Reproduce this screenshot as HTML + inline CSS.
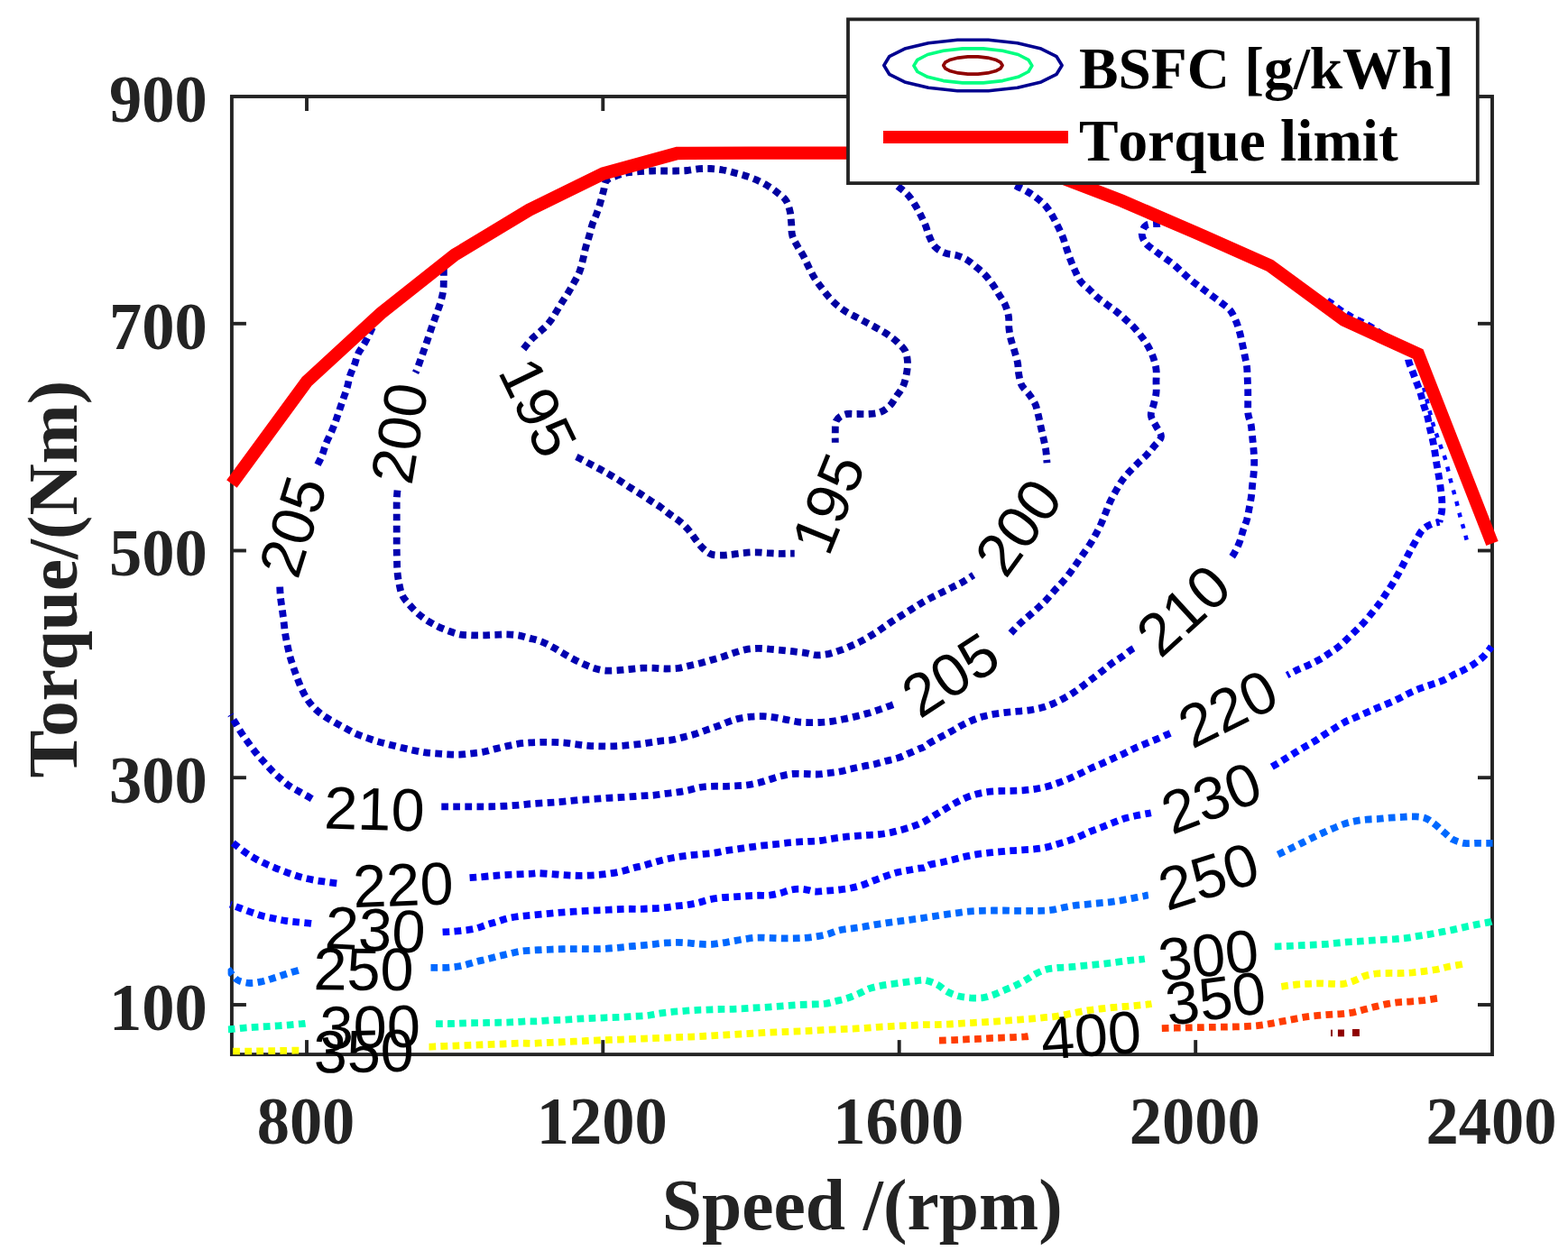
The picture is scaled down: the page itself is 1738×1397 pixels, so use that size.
<!DOCTYPE html>
<html lang="en">
<head>
<meta charset="utf-8">
<title>BSFC map</title>
<style>
html,body{margin:0;padding:0;background:#ffffff;}
body{width:1738px;height:1397px;overflow:hidden;}
svg{display:block;}
text{font-kerning:none;font-variant-ligatures:none;white-space:pre;}
</style>
</head>
<body>
<svg width="1738" height="1397" viewBox="0 0 1738 1397">
<rect x="0" y="0" width="1738" height="1397" fill="#ffffff"/>
<g stroke="#232323" stroke-width="3.9" fill="none" stroke-linecap="butt">
<rect x="256.9" y="107.0" width="1397.1" height="1062.1"/>
<line x1="340.0" y1="1169.1" x2="340.0" y2="1153.1"/>
<line x1="340.0" y1="107.0" x2="340.0" y2="123.0"/>
<line x1="668.3" y1="1169.1" x2="668.3" y2="1153.1"/>
<line x1="668.3" y1="107.0" x2="668.3" y2="123.0"/>
<line x1="996.7" y1="1169.1" x2="996.7" y2="1153.1"/>
<line x1="996.7" y1="107.0" x2="996.7" y2="123.0"/>
<line x1="1325.2" y1="1169.1" x2="1325.2" y2="1153.1"/>
<line x1="1325.2" y1="107.0" x2="1325.2" y2="123.0"/>
<line x1="256.9" y1="358.8" x2="272.9" y2="358.8"/>
<line x1="1654.0" y1="358.8" x2="1638.0" y2="358.8"/>
<line x1="256.9" y1="610.5" x2="272.9" y2="610.5"/>
<line x1="1654.0" y1="610.5" x2="1638.0" y2="610.5"/>
<line x1="256.9" y1="862.2" x2="272.9" y2="862.2"/>
<line x1="1654.0" y1="862.2" x2="1638.0" y2="862.2"/>
<line x1="256.9" y1="1114.0" x2="272.9" y2="1114.0"/>
<line x1="1654.0" y1="1114.0" x2="1638.0" y2="1114.0"/>
</g>
<g font-family="'Liberation Sans', sans-serif" font-size="66.67" fill="#000000" text-anchor="middle">
<text transform="translate(1342.4,883.8) rotate(-21)" y="23.9">230</text>
<text transform="translate(1311.2,676) rotate(-42.5)" y="23.9">210</text>
<text transform="translate(1360.7,784.9) rotate(-26.5)" y="23.9">220</text>
<text transform="translate(1339.4,970.8) rotate(-17.5)" y="23.9">250</text>
<text transform="translate(1339.4,1058.2) rotate(-6)" y="23.9">300</text>
<text transform="translate(1347.3,1106) rotate(-7.5)" y="23.9">350</text>
<text transform="translate(1209.2,1146.8) rotate(-4.2)" y="23.9">400</text>
<text transform="translate(324,583.5) rotate(-72.5)" y="23.9">205</text>
<text transform="translate(441.9,480.1) rotate(-80.5)" y="23.9">200</text>
<text transform="translate(1128,584) rotate(-54)" y="23.9">200</text>
<text transform="translate(1053,747.5) rotate(-33)" y="23.9">205</text>
<text transform="translate(415,896) rotate(1.5)" y="23.9">210</text>
<text transform="translate(446.8,980.2) rotate(-2)" y="23.9">220</text>
<text transform="translate(416.1,1030) rotate(3)" y="23.9">230</text>
<text transform="translate(403,1073.8) rotate(0.5)" y="23.9">250</text>
<text transform="translate(410.2,1137.7) rotate(-1)" y="23.9">300</text>
<text transform="translate(403.1,1164.7) rotate(-1)" y="23.9">350</text>
<text transform="translate(917.1,558.1) rotate(-68)" y="23.9">195</text>
<text transform="translate(597.2,451.3) rotate(64)" y="23.9">195</text>
</g>
<defs><clipPath id="axclip"><rect x="252.59999999999997" y="107.0" width="1403.3999999999999" height="1062.6"/></clipPath></defs>
<g clip-path="url(#axclip)" fill="none">
<path d="M580.3 386.9C581.8 385.1 586.3 379 589.6 375.7C592.8 372.3 596.4 369.8 599.6 366.9C602.7 364 605.6 361.5 608.3 358.1C611.1 354.8 613.5 350.6 615.9 346.8C618.2 343.1 620.3 339.2 622.6 335.6C624.9 331.9 627.3 328.5 629.6 324.8C631.9 321 634.3 316.9 636.4 313C638.5 309.2 640.6 305.8 642.2 301.7C643.8 297.7 644.8 293.1 645.9 288.7C647.1 284.3 647.8 279.7 648.9 275.4C650.1 271.1 651.4 267.3 652.7 262.9C654 258.5 655.1 253.3 656.5 249.1C657.8 244.9 659.5 241.8 661 237.8C662.4 233.9 663.9 229.7 665.2 225.3C666.6 220.9 667.8 215.7 669 211.5C670.2 207.4 669.7 203.1 672.2 200.3C674.7 197.5 680.1 196.2 684 194.7C687.8 193.3 691.1 192.2 695.2 191.5C699.4 190.7 704.5 190.6 709 190.2C713.5 189.9 717.9 189.6 722.3 189.5C726.7 189.4 730.9 189.5 735.3 189.5C739.7 189.5 744.2 189.6 748.6 189.5C753 189.4 757.3 189.4 761.6 189C766 188.6 770.5 187.6 774.9 187.2C779.3 186.9 783.6 186.8 788 187C792.3 187.2 796.9 187.7 801.2 188.5C805.5 189.2 809.7 190.4 813.8 191.5C817.8 192.5 821.5 193.4 825.5 194.7C829.6 196 833.9 197.4 838.1 199.3C842.2 201.1 846.7 203.4 850.6 205.8C854.5 208.1 857.9 210.6 861.4 213.3C864.8 216 868.8 218.5 871.1 222.1C873.5 225.6 874.7 230.3 875.7 234.6C876.7 238.9 876.7 243.5 877.2 247.9C877.6 252.2 877 256.7 878.2 260.9C879.3 265.1 881.8 269 883.9 272.9C886 276.8 888.6 280.3 890.7 284.2C892.8 288.1 894.5 292.3 896.5 296.2C898.5 300.2 900.4 304.3 902.7 308C905 311.7 907.6 315.1 910.2 318.5C912.8 322 915.4 325.5 918.3 328.8C921.1 332.1 924.3 335.3 927.5 338.1C930.8 340.9 934.1 343.3 937.8 345.6C941.5 347.9 945.7 349.8 949.6 351.9C953.5 353.9 957.5 356 961.4 358.1C965.2 360.2 969.1 362.2 972.9 364.4C976.7 366.6 980.5 368.6 984.2 371.1C987.8 373.7 991.5 376.4 994.7 379.4C997.9 382.5 1001.6 385.7 1003.5 389.4C1005.3 393.2 1005.7 397.7 1006 402C1006.2 406.2 1005.5 410.7 1004.7 415.1C1003.9 419.5 1002.7 424.4 1000.9 428.4C999.1 432.4 996.4 435.4 993.9 438.9C991.5 442.5 989.4 446.7 986.4 449.7C983.4 452.7 979.7 455.4 975.9 456.9C972 458.5 967.7 458.6 963.4 459C959 459.3 954.1 458.9 949.6 459C945.1 459 940.1 458.2 936.3 459.5C932.5 460.7 928.8 463.2 927 466.5C925.3 469.7 926 474.9 925.8 479C925.6 483.1 925.8 488.8 925.8 490.8" stroke="#0000a0" stroke-width="7.8" stroke-dasharray="7.7 5.35" stroke-dashoffset="0"/>
<path d="M638.9 506.6C641.2 507.7 648.3 511.3 652.6 513.6C657 515.9 661.2 518.2 665.2 520.3C669.1 522.5 672.7 524.4 676.4 526.6C680.2 528.8 684 531 687.7 533.4C691.5 535.8 695.2 538.5 699 540.9C702.8 543.3 706.5 545.5 710.3 547.9C714 550.3 717.9 553 721.6 555.4C725.2 557.8 728.8 559.9 732.3 562.4C735.9 564.9 739.3 567.9 742.9 570.5C746.4 573.1 750 575.2 753.4 578C756.7 580.8 760 583.9 762.9 587.2C765.8 590.6 768.2 594.6 770.9 598C773.6 601.5 776.1 605.2 779.2 608C782.2 610.8 785.2 613.6 789.2 614.8C793.2 616.1 799.4 615.6 803 615.6C806.5 615.6 807 615.2 810.5 614.8C814.1 614.4 819.9 613.5 824.3 613.1C828.7 612.6 832.4 612.3 836.8 612.3C841.2 612.3 846.1 612.8 850.6 613.1C855.1 613.3 859.2 613.7 863.6 613.8C868 613.9 874.1 613.6 876.9 613.6C879.7 613.5 880 613.6 880.7 613.6" stroke="#0000a0" stroke-width="7.8" stroke-dasharray="7.7 5.35" stroke-dashoffset="0"/>
<path d="M491.8 298C491.8 299.9 491.9 305.3 491.8 309.3C491.7 313.2 491.9 317.6 491.3 321.8C490.8 326 489.7 330.1 488.6 334.3C487.4 338.5 485.8 342.7 484.3 346.8C482.9 351 481.3 355.2 479.8 359.4C478.3 363.5 477 367.6 475.5 371.9C474.1 376.2 472.5 381 471 385.2C469.6 389.4 468.2 392.9 466.8 397C465.3 401 463.3 406.8 462.3 409.5C461.2 412.2 460.8 412.6 460.5 413.2" stroke="#0000af" stroke-width="7.8" stroke-dasharray="7.7 5.35" stroke-dashoffset="0"/>
<path d="M440.5 543.6C440.3 545.6 439.8 551.3 439.7 555.4C439.6 559.6 439.7 564.3 439.7 568.7C439.7 573.1 439.7 577.3 439.7 581.7C439.7 586.2 439.7 591.1 439.7 595.5C439.7 599.9 439.7 603.9 439.7 608C439.8 612.2 439.8 616.2 440 620.6C440.1 625 440 629.8 440.5 634.4C440.9 638.9 441.5 643.3 442.5 647.6C443.4 651.9 444.2 656.5 446 660.2C447.7 663.8 450.2 666.3 453 669.5C455.7 672.8 459.2 676.6 462.5 679.6C465.9 682.6 469.3 685.1 473 687.6C476.8 690.1 481.1 692.4 485.1 694.4C489 696.3 492.8 697.9 496.8 699.4C500.9 700.9 505.1 702.5 509.4 703.4C513.7 704.2 518.3 704.2 522.7 704.4C527 704.5 531.3 704.5 535.7 704.4C540 704.3 544.3 704 548.7 703.9C553.1 703.7 557.7 703.3 562 703.4C566.3 703.5 570.3 703.7 574.5 704.4C578.7 705.1 582.8 706.5 587 707.6C591.3 708.8 595.9 709.8 600.1 711.4C604.3 713 608.2 715.1 612.1 717.2C616 719.2 619.5 721.7 623.4 723.9C627.3 726.2 631.4 728.6 635.4 730.7C639.4 732.8 643.3 734.7 647.2 736.4C651.1 738.2 655 739.8 659 741C662.9 742.1 666.6 743.1 671 743.5C675.4 743.8 680.7 743.5 685.2 743.2C689.8 743 693.9 742.4 698.2 742C702.6 741.5 707.1 740.9 711.5 740.7C715.9 740.5 720.2 740.6 724.6 740.7C728.9 740.8 733.5 741.4 737.8 741.5C742.2 741.5 746.6 741.5 750.9 741C755.1 740.4 759.1 739.2 763.4 738.2C767.7 737.2 772.3 736.3 776.7 735.2C781.1 734.1 785.4 732.7 789.7 731.4C794 730.2 798.3 729 802.5 727.7C806.7 726.3 810.7 724.7 814.8 723.4C818.8 722.2 822.6 720.9 826.8 720.2C831 719.4 835.5 719 839.8 718.9C844.1 718.8 848.3 719.3 852.6 719.7C856.9 720 861.3 720.5 865.6 720.9C870 721.3 874.2 721.7 878.7 722.2C883.1 722.7 888 723.2 892.4 723.9C896.9 724.6 901 726.2 905.2 726.4C909.4 726.6 913.6 726 917.8 725.2C921.9 724.3 926.1 722.9 930.3 721.4C934.5 720 938.8 718.2 942.8 716.4C946.9 714.6 950.7 712.9 954.6 710.9C958.4 708.9 962.1 706.7 965.9 704.4C969.6 702.1 973.5 699.6 977.1 697.1C980.8 694.6 984.3 692 987.9 689.6C991.5 687.2 995.1 685 998.9 682.6C1002.8 680.2 1007.3 677.4 1011 675.1C1014.6 672.8 1017.4 670.9 1021 668.8C1024.6 666.7 1028.8 664.5 1032.7 662.4C1036.7 660.4 1040.8 658.4 1044.7 656.4C1048.7 654.4 1052.7 652.6 1056.5 650.6C1060.4 648.7 1064 647.1 1067.8 644.9C1071.6 642.7 1077.2 638.8 1079.1 637.6" stroke="#0000af" stroke-width="7.8" stroke-dasharray="7.7 5.35" stroke-dashoffset="0"/>
<path d="M995.1 206.5C996.9 208 1002.5 211.9 1005.7 215.3C1008.8 218.6 1011.5 222.8 1013.9 226.6C1016.3 230.3 1018.2 234 1020.2 237.8C1022.1 241.7 1024 245.5 1025.7 249.6C1027.4 253.7 1028.4 258.4 1030.2 262.4C1032 266.4 1033.6 270.7 1036.5 273.7C1039.3 276.7 1043.4 278.9 1047.2 280.4C1051.1 282 1055.7 281.7 1059.8 282.9C1063.8 284.2 1067.8 285.7 1071.6 288C1075.3 290.2 1078.9 293.4 1082.3 296.2C1085.8 299.1 1089.1 301.8 1092.1 305C1095.1 308.2 1097.8 311.9 1100.4 315.5C1102.9 319.2 1105.1 323 1107.4 326.8C1109.7 330.6 1112.4 334.1 1114.2 338.1C1115.9 342 1117.2 346.3 1117.9 350.6C1118.6 354.9 1118 359.7 1118.4 363.9C1118.8 368.1 1119.5 371.6 1120.4 375.7C1121.4 379.7 1122.9 383.8 1124.2 388.2C1125.4 392.6 1127.1 397.6 1127.9 402C1128.8 406.4 1128.4 410.3 1129.2 414.5C1129.9 418.7 1130.6 423.3 1132.4 427C1134.3 430.8 1138 433.5 1140.5 437C1143 440.6 1145.7 444.2 1147.5 448.2C1149.2 452.1 1149.9 456.5 1151 460.7C1152 464.9 1152.8 469.2 1153.7 473.5C1154.7 477.8 1155.8 482.2 1156.7 486.5C1157.7 490.9 1158.6 495.1 1159.3 499.5C1159.9 504 1160.3 511 1160.5 513.3" stroke="#0000af" stroke-width="7.8" stroke-dasharray="7.7 5.35" stroke-dashoffset="0"/>
<path d="M412.9 363.1C411.4 366.1 406.8 375.9 404.1 380.7C401.5 385.5 399 388 397.1 391.9C395.2 395.9 394.4 400.3 392.9 404.5C391.3 408.6 389.2 412.8 387.8 417C386.5 421.2 386.1 425.3 384.8 429.5C383.6 433.8 381.8 438.4 380.3 442.7C378.9 446.9 377.4 451.1 376.1 455.2C374.7 459.2 373.5 463 372.1 467C370.6 470.9 369 474.9 367.3 479C365.5 483.1 363.2 487.2 361.5 491.5C359.8 495.8 358.6 500.8 357 504.8C355.4 508.8 353.1 513.1 352 515.3C350.9 517.6 350.5 517.8 350.3 518.3" stroke="#0000be" stroke-width="7.8" stroke-dasharray="7.7 5.35" stroke-dashoffset="0"/>
<path d="M310.2 650.6C310.3 652.5 310.5 658 310.9 662C311.3 666.1 312.1 670.7 312.7 675.1C313.3 679.4 313.9 683.7 314.4 688.1C315 692.5 315.3 696.9 315.9 701.4C316.6 705.8 317.5 710.3 318.4 714.6C319.3 719 320.3 723.5 321.4 727.7C322.6 731.9 323.8 735.6 325.2 739.7C326.6 743.8 328.1 748.1 329.7 752.2C331.3 756.4 332.8 760.5 334.7 764.5C336.6 768.5 338.5 772.4 341 776C343.4 779.6 346.4 783.1 349.5 786.1C352.6 789.1 356 791.6 359.5 794.1C363.1 796.5 367 798.7 370.8 800.8C374.6 803 378.4 805 382.3 807.1C386.2 809.2 390.1 811.6 394.1 813.4C398.1 815.2 402 816.4 406.1 817.9C410.2 819.3 414.5 820.9 418.7 822.1C422.8 823.4 426.9 824.3 431.2 825.4C435.4 826.5 439.9 827.6 444.2 828.7C448.6 829.7 452.9 830.7 457.2 831.7C461.6 832.6 465.7 833.5 470 834.2C474.3 834.8 478.7 835.1 483.1 835.4C487.4 835.8 492 836.2 496.3 836.4C500.7 836.6 505 836.8 509.4 836.7C513.8 836.5 518.3 835.9 522.7 835.4C527 834.9 531.3 834.5 535.7 833.7C540 832.8 544.4 831.5 548.7 830.4C553 829.4 557.2 828.4 561.5 827.4C565.8 826.4 570.3 825.3 574.5 824.7C578.8 824 582.8 823.7 587 823.4C591.3 823.1 595.6 823 600 822.9C604.4 822.8 608.9 822.8 613.3 822.9C617.7 823 622 823.2 626.3 823.6C630.7 824.1 635 824.9 639.4 825.4C643.7 825.9 648.3 826.6 652.6 826.9C657 827.2 661.3 827.3 665.7 827.4C670.1 827.5 674.6 827.5 679 827.4C683.3 827.3 687.6 827 692 826.7C696.4 826.3 700.9 825.9 705.3 825.4C709.7 824.9 713.9 824.3 718.3 823.6C722.7 823 727.2 822.2 731.6 821.6C736 821.1 740.3 821.1 744.6 820.4C748.9 819.7 753.2 818.4 757.4 817.4C761.6 816.3 765.7 815.4 769.9 814.1C774.1 812.8 778.3 811.1 782.4 809.6C786.6 808.2 790.6 806.9 794.7 805.4C798.9 803.8 803.2 801.8 807.2 800.3C811.3 798.9 815.1 797.5 819.3 796.6C823.5 795.6 827.9 795 832.3 794.6C836.7 794.2 841.3 794 845.6 794.1C849.9 794.2 853.9 794.7 858.1 795.3C862.4 796 866.8 797 871.1 797.8C875.4 798.7 879.6 799.8 883.9 800.3C888.2 800.9 892.5 801 897 801.1C901.4 801.2 906.4 801.1 910.7 800.8C915.1 800.6 919 800.2 923.3 799.6C927.5 799 931.9 798 936.3 797.1C940.7 796.2 945.3 795.1 949.6 794.1C953.9 793 957.8 792.1 962.1 790.8C966.4 789.6 970.9 788 975.1 786.6C979.4 785.1 985 783 987.7 782.1C990.4 781.1 990.8 781 991.4 780.8" stroke="#0000be" stroke-width="7.8" stroke-dasharray="7.7 5.35" stroke-dashoffset="0"/>
<path d="M1125.4 205.8C1127.5 206.8 1134 209.7 1138 212C1141.9 214.3 1145.7 216.8 1149.2 219.5C1152.8 222.3 1156.3 225.2 1159.3 228.6C1162.2 232 1164.6 236.2 1166.8 239.8C1168.9 243.5 1170.4 246.5 1172.3 250.4C1174.2 254.2 1176.4 258.6 1178 262.9C1179.7 267.2 1180.8 271.6 1182.3 275.9C1183.8 280.2 1185.2 284.6 1186.8 288.7C1188.4 292.8 1190 296.6 1191.8 300.5C1193.6 304.3 1195.1 308.4 1197.6 311.8C1200.1 315.1 1203.7 317.5 1206.9 320.5C1210 323.5 1213 326.9 1216.4 329.8C1219.8 332.7 1223.9 335.4 1227.4 338.1C1231 340.7 1234.3 342.9 1237.7 345.6C1241.1 348.3 1244.5 351.4 1247.7 354.4C1250.9 357.3 1254 359.9 1257 363.1C1260 366.3 1263.1 370.1 1265.7 373.7C1268.4 377.2 1270.7 380.6 1272.8 384.4C1274.9 388.2 1276.8 392.3 1278.3 396.5C1279.7 400.6 1281 405 1281.5 409.5C1282.1 414 1281.5 418.9 1281.5 423.3C1281.5 427.7 1282 431.6 1281.5 435.8C1281.1 439.9 1279.7 444 1278.8 448.2C1277.8 452.3 1275.4 456.7 1275.8 460.7C1276.2 464.7 1279.4 468.4 1281.3 472.2C1283.2 476.1 1287.3 480.3 1287 484C1286.8 487.7 1282.2 491.1 1279.5 494.5C1276.8 498 1273.8 501.4 1270.8 504.6C1267.8 507.7 1264.6 510.3 1261.5 513.3C1258.4 516.4 1254.9 519.6 1252 522.9C1249 526.1 1246.2 529.3 1243.7 532.9C1241.2 536.4 1239.1 540.3 1236.9 544.2C1234.8 548 1232.5 552 1230.7 555.9C1228.8 559.9 1227.3 563.9 1225.7 568C1224 572 1222.4 576.5 1220.6 580.5C1218.8 584.5 1217 587.9 1214.9 591.8C1212.8 595.6 1210.5 599.8 1208.1 603.5C1205.7 607.3 1203.1 610.7 1200.6 614.3C1198.1 617.9 1195.6 621.5 1193.1 625.1C1190.6 628.6 1188.3 632.1 1185.6 635.6C1182.9 639.2 1179.7 643 1176.8 646.4C1173.9 649.7 1170.9 652.4 1168 655.7C1165.1 658.9 1162.3 662.5 1159.3 665.7C1156.2 668.8 1153.2 671.5 1150 674.5C1146.8 677.4 1143.3 680.3 1140 683.2C1136.6 686.1 1133.2 688.9 1129.9 692C1126.7 695.1 1122 700.3 1120.4 702" stroke="#0000be" stroke-width="7.8" stroke-dasharray="7.7 5.35" stroke-dashoffset="0"/>
<path d="M255.3 792.4C256.3 794.1 259.1 798.6 261.3 802.1C263.5 805.6 265.9 810 268.3 813.6C270.7 817.3 273.2 820.6 275.8 824.2C278.4 827.7 281.1 831.5 283.9 834.9C286.6 838.4 289.6 841.6 292.6 844.9C295.6 848.3 298.8 851.8 301.9 855C305 858.1 308.2 860.9 311.4 863.7C314.7 866.5 318 869.4 321.4 871.8C324.9 874.1 328.5 875.9 332.2 878C335.9 880.1 340.9 882.8 343.5 884.3C346.1 885.8 347 886.4 347.7 886.8" stroke="#0000cd" stroke-width="7.8" stroke-dasharray="7.7 5.35" stroke-dashoffset="6.4"/>
<path d="M489.3 894.3C491.2 894.3 496.6 894.3 500.6 894.3C504.6 894.3 508.7 894.3 513.1 894.3C517.5 894.3 522.5 894.3 526.9 894.3C531.3 894.3 535.3 894.4 539.4 894.3C543.6 894.3 547.6 894.2 552 894.1C556.4 893.9 561.4 893.6 565.7 893.3C570.1 893 574.2 892.7 578.3 892.3C582.3 891.9 585.5 891.4 590 891.1C594.5 890.7 600.3 890.3 605 890.1C609.8 889.8 613.9 889.6 618.3 889.3C622.7 889 627 888.5 631.3 888C635.7 887.6 640.2 887.1 644.6 886.8C649 886.5 653.3 886.3 657.7 886C662 885.8 666.3 885.3 670.7 885C675.1 884.7 679.6 884.5 684 884.3C688.4 884 692.6 883.8 697 883.5C701.4 883.2 705.9 882.8 710.3 882.5C714.7 882.2 718.9 882.2 723.3 881.8C727.7 881.4 732.2 880.6 736.6 880C741 879.5 745.3 879.2 749.6 878.5C753.9 877.9 758.1 877.2 762.4 876.3C766.7 875.4 771 873.8 775.4 873C779.8 872.3 784.3 872 788.7 871.8C793.1 871.6 797.4 871.8 801.7 871.8C806.1 871.7 810.5 871.5 814.8 871.3C819.1 871.1 823.2 871.1 827.5 870.5C831.8 870 836.3 869 840.6 868C844.8 867 848.9 865.5 853.1 864.2C857.3 863 861.4 861.5 865.6 860.5C869.9 859.4 874.3 858.4 878.7 858C883 857.6 887.6 857.9 891.9 858C896.3 858.1 900.6 858.6 905 858.5C909.4 858.4 914 857.7 918.3 857.2C922.6 856.7 926.6 856.3 930.8 855.5C935 854.7 939 853.4 943.3 852.5C947.6 851.5 952.2 850.6 956.6 849.7C961 848.8 965.4 848.2 969.6 847.2C973.9 846.2 977.9 844.8 982.2 843.7C986.4 842.6 991 841.8 995.2 840.4C999.4 839.1 1003.1 837.2 1007.2 835.4C1011.3 833.7 1016.8 831.2 1019.7 829.9C1022.7 828.7 1023.2 829 1025 827.9C1026.8 826.9 1027.8 825.4 1030.7 823.6C1033.6 821.9 1038.4 819.5 1042.2 817.4C1046.1 815.3 1050.2 813.3 1054 811.1C1057.9 809 1061.5 806.6 1065.3 804.6C1069 802.6 1072.6 800.8 1076.6 799.1C1080.5 797.4 1084.8 795.8 1089.1 794.6C1093.4 793.3 1097.7 792.4 1102.1 791.6C1106.5 790.8 1111 790.3 1115.4 789.8C1119.8 789.3 1124 789 1128.4 788.6C1132.8 788.2 1137.3 788 1141.7 787.3C1146.1 786.6 1150.6 785.7 1154.7 784.6C1158.9 783.4 1162.8 782 1166.8 780.3C1170.8 778.6 1174.9 776.6 1178.8 774.5C1182.7 772.4 1186.4 770.2 1190.1 767.8C1193.8 765.3 1197.6 762.4 1201.1 759.8C1204.7 757.1 1207.9 754.6 1211.4 752C1214.8 749.4 1218.5 746.6 1221.9 744C1225.3 741.3 1228.4 738.5 1231.9 735.9C1235.5 733.4 1239.6 730.9 1243.2 728.4C1246.7 725.9 1250.8 722.6 1253.2 720.9C1255.6 719.2 1257 718.6 1257.7 718.2" stroke="#0000cd" stroke-width="7.8" stroke-dasharray="7.7 5.35" stroke-dashoffset="0"/>
<path d="M1285.8 247.9C1283.3 248.2 1274.1 247.7 1270.8 249.6C1267.4 251.6 1265.8 256.3 1265.7 259.6C1265.7 263 1267.9 266.9 1270.3 269.9C1272.6 273 1276.7 275.4 1280 277.9C1283.3 280.5 1286.5 282.6 1290 285.2C1293.5 287.8 1297.7 290.6 1301.3 293.5C1304.8 296.4 1308 299.8 1311.3 302.8C1314.6 305.8 1317.9 308.7 1321.3 311.5C1324.8 314.3 1328.5 316.9 1332.1 319.5C1335.6 322.2 1339.1 324.7 1342.6 327.3C1346.1 329.9 1349.7 332.6 1353.1 335.3C1356.6 338 1360.4 340.3 1363.2 343.6C1365.9 346.9 1367.9 351.3 1369.7 355.4C1371.5 359.4 1372.7 363.6 1373.9 367.9C1375.2 372.2 1376 376.6 1376.9 380.9C1377.9 385.3 1378.9 390 1379.7 394.2C1380.5 398.4 1381.5 401.8 1382 406C1382.5 410.2 1382.5 414.9 1382.7 419.3C1382.9 423.7 1383.1 428.2 1383.2 432.6C1383.3 436.9 1383.2 441.1 1383.2 445.6C1383.3 450.1 1382.9 455.3 1383.5 459.4C1384 463.4 1385.7 465.7 1386.5 470C1387.3 474.3 1387.7 480.3 1388.2 485C1388.7 489.8 1389.1 494 1389.5 498.3C1389.8 502.6 1390.2 506.6 1390.2 510.8C1390.3 515.1 1390.1 519.5 1389.7 523.9C1389.4 528.3 1388.7 532.8 1388.2 537.2C1387.8 541.5 1387.6 545.8 1387 550.2C1386.4 554.5 1385.6 558.8 1384.7 563.2C1383.9 567.6 1383.1 572.3 1382 576.5C1380.8 580.7 1379 584.4 1377.7 588.5C1376.4 592.6 1375.5 597 1373.9 601.1C1372.4 605.1 1370.3 609.4 1368.4 612.8C1366.6 616.3 1363.6 620.1 1362.7 621.6" stroke="#0000cd" stroke-width="7.8" stroke-dasharray="7.7 5.35" stroke-dashoffset="0"/>
<path d="M258.2 934.6C260.8 936.6 269.3 943.3 273.8 946.4C278.3 949.5 281.2 951.1 285.1 953.2C289 955.3 293.1 957.2 297.1 959C301.2 960.8 305.3 962.3 309.4 964C313.5 965.6 317.8 967.3 321.9 968.7C326.1 970.2 330.2 971.6 334.5 972.7C338.8 973.9 343.3 974.9 347.7 975.7C352.2 976.6 356.6 977.1 361 977.8C365.4 978.4 371.3 979.1 374.1 979.5C376.8 979.9 376.8 980.1 377.3 980.3" stroke="#0000ec" stroke-width="7.8" stroke-dasharray="7.7 5.35" stroke-dashoffset="0"/>
<path d="M520.6 973.2C522.3 973.1 526.7 972.8 530.7 972.5C534.6 972.2 540.1 971.6 544.5 971.2C548.8 970.9 552.6 970.5 557 970.2C561.4 969.9 566.4 969.7 570.8 969.5C575.1 969.3 580.1 969.1 583.3 969C586.5 968.9 587.7 968.9 590 968.7C592.3 968.6 593.7 968.2 597 968.2C600.4 968.3 605.7 968.7 610 969C614.4 969.3 618.9 969.7 623.3 970C627.7 970.3 632 970.6 636.4 970.7C640.7 970.9 645 970.9 649.4 970.7C653.8 970.6 658.4 970.3 662.7 970C667 969.7 670.9 969.4 675.2 968.7C679.5 968.1 684.1 967.3 688.5 966.2C692.9 965.2 697.2 963.6 701.5 962.5C705.8 961.3 709.9 960.6 714 959.5C718.2 958.3 722.4 956.9 726.6 955.7C730.7 954.5 734.8 953.4 739.1 952.4C743.4 951.5 748 950.6 752.4 949.9C756.8 949.2 761.1 948.7 765.4 948.2C769.7 947.7 774 947.4 778.4 946.9C782.8 946.5 787.4 946.3 791.7 945.7C796 945.1 800 943.9 804.2 943.2C808.5 942.5 812.9 942 817.3 941.4C821.7 940.8 826.2 940 830.6 939.4C834.9 938.8 839.3 938.2 843.6 937.7C847.9 937.2 852.1 936.9 856.4 936.4C860.7 935.9 865 935.4 869.4 934.9C873.7 934.4 878 934 882.4 933.7C886.8 933.3 891.3 933.2 895.7 932.9C900.1 932.7 904.3 932.7 908.7 932.1C913.1 931.6 917.6 930.6 922 929.9C926.4 929.2 930.7 928.6 935 928.1C939.4 927.6 943.9 927.3 948.3 926.9C952.7 926.5 957.1 926.2 961.4 925.9C965.7 925.6 969.8 925.6 974.1 925.1C978.4 924.7 982.9 924 987.2 923.1C991.4 922.3 995.5 921 999.7 919.9C1003.9 918.7 1008.3 917.5 1012.2 916.1C1016.2 914.7 1019.5 913.4 1023.5 911.4C1027.5 909.3 1032.1 906.2 1036 903.8C1039.9 901.5 1043.3 899.5 1047 897.3C1050.7 895.1 1054.5 892.6 1058.3 890.6C1062.1 888.5 1065.8 886.5 1069.8 884.8C1073.8 883.1 1077.9 881.7 1082.1 880.5C1086.2 879.4 1090.3 878.6 1094.6 878C1098.9 877.4 1103.5 877.2 1107.9 877C1112.3 876.8 1116.5 876.9 1120.9 876.8C1125.3 876.6 1129.8 876.6 1134.2 876.3C1138.6 875.9 1142.9 875.4 1147.2 874.8C1151.5 874.1 1155.7 873.4 1160 872.3C1164.3 871.1 1168.8 869.5 1173 868C1177.3 866.5 1181.5 864.7 1185.6 863C1189.7 861.2 1193.6 859.4 1197.6 857.5C1201.6 855.6 1205.4 853.5 1209.4 851.7C1213.3 849.9 1217.2 848.5 1221.1 846.7C1225.1 844.9 1229.2 843 1233.2 841.2C1237.1 839.4 1241 837.8 1245 835.9C1248.9 834 1253 831.8 1257 829.9C1261 828.1 1265 826.6 1269 824.9C1273.1 823.2 1277.2 821.6 1281.3 819.9C1285.3 818.2 1290.7 815.8 1293.3 814.6C1295.9 813.5 1296.4 813.2 1297.1 812.9" stroke="#0000ec" stroke-width="7.8" stroke-dasharray="7.7 5.35" stroke-dashoffset="0"/>
<path d="M1470.8 333.3C1471.5 333.8 1472.7 334.1 1475.3 336C1478 337.9 1483 342.1 1486.8 344.7C1490.6 347.3 1494.4 349.5 1498.2 351.6C1502.1 353.7 1506.1 355.5 1509.7 357.3C1513.3 359.2 1514.6 359.5 1520 362.8C1525.4 366.2 1535.1 373.4 1542 377.5C1548.9 381.6 1558.3 383.9 1561.5 387.5C1564.7 391.1 1560.4 395 1561.1 399C1561.8 403 1564.1 407.4 1565.6 411.6C1567.2 415.8 1568.7 420 1570.2 424.2C1571.8 428.4 1573.5 432.6 1574.8 436.8C1576.1 441 1577 445.1 1578.2 449.4C1579.5 453.7 1581.2 458.1 1582.4 462.4C1583.5 466.8 1584.2 471.4 1585.1 475.7C1586.1 480 1587.2 484.1 1588.1 488.3C1589 492.5 1589.7 496.6 1590.4 500.9C1591.1 505.2 1591.7 509.8 1592.4 514.2C1593.2 518.6 1594 523 1594.7 527.3C1595.4 531.5 1596 535.5 1596.6 539.8C1597.1 544.2 1597.9 548.7 1598.2 553.1C1598.4 557.5 1598.6 561.9 1598.2 566.2C1597.7 570.5 1595.9 576.7 1595.4 578.8" stroke="#0000ec" stroke-width="7.8" stroke-dasharray="7.7 5.35" stroke-dashoffset="0"/>
<path d="M1595.4 578.8C1593.8 579.2 1588.8 580 1585.7 581.5C1582.5 583 1579.1 584.8 1576.4 587.8C1573.7 590.8 1571.7 595.6 1569.4 599.5C1567.1 603.5 1564.7 607.7 1562.6 611.6C1560.5 615.5 1558.9 619 1556.9 622.9C1554.9 626.7 1552.8 630.9 1550.6 634.9C1548.4 638.8 1546.1 642.9 1543.8 646.7C1541.5 650.4 1539.2 653.8 1536.8 657.4C1534.4 661.1 1531.9 665.2 1529.3 668.7C1526.7 672.3 1524.1 675.3 1521.3 678.7C1518.5 682.2 1515.5 686 1512.5 689.3C1509.5 692.6 1506.5 695.5 1503.5 698.5C1500.4 701.6 1497.4 704.5 1494.2 707.5C1491 710.6 1487.7 714 1484.2 716.8C1480.7 719.6 1477.1 721.9 1473.4 724.3C1469.8 726.8 1466.2 729.2 1462.4 731.4C1458.6 733.5 1454.4 735.5 1450.4 737.4C1446.4 739.2 1442.3 740.7 1438.3 742.6C1434.4 744.5 1428.5 747.6 1426.6 748.6" stroke="#0000ec" stroke-width="7.8" stroke-dasharray="7.7 5.35" stroke-dashoffset="4"/>
<path d="M255.3 1002.7C256.9 1003.3 261.3 1005.1 265.1 1006.5C268.8 1007.9 273.4 1009.6 277.6 1011.1C281.8 1012.5 285.9 1014.1 290.1 1015.3C294.4 1016.5 298.8 1017.4 303.1 1018.3C307.5 1019.2 312 1020.2 316.4 1020.8C320.8 1021.5 325.1 1021.9 329.5 1022.3C333.8 1022.8 339.9 1023.3 342.7 1023.6C345.6 1023.9 345.9 1024 346.5 1024.1" stroke="#0008ff" stroke-width="7.8" stroke-dasharray="7.7 5.35" stroke-dashoffset="6.4"/>
<path d="M490.6 1033.4C492.2 1033.3 496.8 1033.1 500.6 1032.9C504.4 1032.6 509.2 1032.1 513.6 1031.6C518 1031.1 522.6 1030.6 526.9 1029.6C531.2 1028.5 535.3 1026.7 539.4 1025.3C543.6 1024 547.8 1022.8 552 1021.6C556.1 1020.3 560.2 1018.8 564.5 1017.8C568.8 1016.9 573.3 1016.4 577.5 1015.8C581.8 1015.3 585.6 1015 590 1014.6C594.4 1014.1 599.3 1013.7 603.8 1013.3C608.3 1012.9 612.4 1012.4 616.8 1012.1C621.2 1011.7 625.7 1011.3 630.1 1011.1C634.5 1010.8 638.7 1010.6 643.1 1010.3C647.5 1010 652 1009.8 656.4 1009.5C660.8 1009.3 665 1009.3 669.4 1009C673.8 1008.8 678.3 1008.5 682.7 1008.3C687.1 1008.1 691.4 1007.9 695.7 1007.8C700.1 1007.7 704.6 1007.9 709 1007.8C713.4 1007.7 717.7 1007.5 722.1 1007.3C726.4 1007.1 730.9 1007 735.3 1006.5C739.7 1006.1 744 1005.3 748.4 1004.8C752.7 1004.2 757.3 1004 761.6 1003.3C765.9 1002.6 770 1001.8 774.2 1000.8C778.3 999.8 782.4 998.2 786.7 997.3C791 996.4 795.3 995.7 799.7 995.3C804.1 994.8 808.6 994.8 813 994.5C817.4 994.2 821.7 993.8 826 993.5C830.4 993.2 835 992.9 839.3 992.8C843.6 992.6 847.6 993.2 851.9 992.8C856.1 992.3 860.6 991.3 864.9 990.3C869.1 989.2 873.2 987.2 877.4 986.5C881.6 985.7 885.6 985.4 889.9 985.7C894.2 986.1 898.8 988.2 903.2 988.5C907.6 988.8 911.9 988.1 916.3 987.7C920.6 987.4 925.1 987 929.5 986.5C933.9 986 938.3 985.6 942.6 984.7C946.9 983.9 951.1 982.9 955.3 981.5C959.6 980.1 963.7 978.1 967.9 976.5C972 974.9 976 973.4 980.1 972C984.3 970.5 988.5 968.8 992.7 967.7C996.9 966.6 1000.9 966 1005.2 965.2C1009.5 964.4 1015.2 963.2 1018.5 962.7C1021.8 962.1 1023 962.6 1025 961.9C1027 961.3 1027.6 959.7 1030.7 958.7C1033.8 957.8 1039.3 957.1 1043.5 956.2C1047.7 955.3 1051.8 954.2 1056 953.2C1060.3 952.2 1064.8 950.9 1069 949.9C1073.3 949 1077.3 948.1 1081.6 947.4C1085.8 946.7 1090.3 946.2 1094.6 945.7C1098.9 945.2 1103 944.8 1107.4 944.4C1111.8 944 1116.6 943.5 1120.9 943.2C1125.3 942.8 1129.1 942.7 1133.4 942.4C1137.7 942.1 1142.3 941.9 1146.7 941.4C1151.1 940.9 1155.5 940.4 1159.8 939.4C1164.1 938.5 1168.3 936.9 1172.5 935.7C1176.8 934.4 1180.9 933.4 1185.1 931.9C1189.2 930.4 1193.5 928.6 1197.6 926.9C1201.7 925.1 1205.8 923 1209.9 921.4C1213.9 919.7 1217.8 918.5 1221.9 916.9C1226 915.3 1230.3 913.4 1234.4 911.9C1238.6 910.3 1242.8 908.6 1247 907.3C1251.1 906.1 1255.2 905.3 1259.5 904.3C1263.8 903.4 1270.1 902.3 1272.8 901.8C1275.5 901.3 1275.3 901.4 1275.8 901.3" stroke="#0008ff" stroke-width="7.8" stroke-dasharray="7.7 5.35" stroke-dashoffset="0"/>
<path d="M1409.8 850.2C1411.7 849.1 1417.6 845.6 1421.6 843.2C1425.5 840.8 1429.4 838.3 1433.3 835.9C1437.2 833.6 1441 831.2 1444.9 828.9C1448.7 826.6 1452.8 824.5 1456.6 822.2C1460.5 819.8 1462.5 818.1 1467.9 814.6C1473.3 811.2 1483.6 804.4 1489.2 801.3C1494.8 798.1 1497.6 797.6 1501.7 795.7C1505.9 793.9 1510.2 792 1514.3 790.2C1518.3 788.5 1522.1 786.9 1526 785.2C1530 783.6 1534 782 1538.1 780.2C1542.2 778.4 1546.5 776.5 1550.6 774.5C1554.7 772.4 1558.7 770.1 1562.6 768.2C1566.6 766.3 1570.4 764.7 1574.4 763.2C1578.5 761.6 1582.8 760.4 1586.9 758.9C1591.1 757.5 1595.4 756.2 1599.5 754.4C1603.5 752.6 1607.4 750.1 1611.2 748.1C1615.1 746.2 1618.9 744.7 1622.8 742.6C1626.6 740.5 1630.9 738.1 1634.5 735.6C1638.2 733.1 1641.4 730.7 1644.6 727.6C1647.7 724.5 1651.9 718.6 1653.3 716.8" stroke="#0008ff" stroke-width="7.8" stroke-dasharray="7.7 5.35" stroke-dashoffset="0"/>
<path d="M1578.2 429.9C1579.8 436 1584.4 455.9 1587.4 466.6C1590.5 477.3 1594.1 486.8 1596.6 494C1599 501.3 1600.4 503.6 1602.3 510.1C1604.2 516.6 1606.1 525.7 1608 533C1609.9 540.2 1612 547.1 1613.7 553.6C1615.5 560.1 1616.8 566.2 1618.3 571.9C1619.8 577.6 1621.6 583.1 1622.9 587.9C1624.2 592.8 1625.8 599 1626.3 601.2" stroke="#0008ff" stroke-width="4.5" stroke-dasharray="5 8.1" stroke-dashoffset="0"/>
<path d="M252.8 1074.2C253.8 1075.6 256.8 1080.2 258.8 1082.5C260.8 1084.7 261.9 1086.2 265.1 1087.5C268.2 1088.7 273.2 1089.9 277.6 1090C282 1090.1 287 1088.9 291.4 1088C295.8 1087 299.6 1085.6 303.9 1084.2C308.2 1082.9 312.7 1081.3 316.9 1080C321.2 1078.6 326.7 1077 329.5 1076.2C332.2 1075.4 332.6 1075.2 333.2 1074.9" stroke="#0068ff" stroke-width="7.8" stroke-dasharray="7.7 5.35" stroke-dashoffset="0"/>
<path d="M477.5 1072.9C479.1 1072.9 483 1073 486.8 1072.9C490.7 1072.9 496.1 1072.9 500.6 1072.4C505.1 1072 509.4 1071.4 513.6 1070.4C517.9 1069.5 522 1067.8 526.2 1066.7C530.3 1065.6 534.5 1064.7 538.7 1063.7C542.9 1062.6 547.2 1061.5 551.5 1060.4C555.8 1059.4 560.2 1058.4 564.5 1057.4C568.8 1056.4 572.8 1055.3 577 1054.7C581.3 1054 585.5 1053.9 590 1053.6C594.5 1053.4 599.3 1053.1 603.8 1052.9C608.3 1052.7 612.4 1052.5 616.8 1052.4C621.2 1052.3 625.7 1052.2 630.1 1052.1C634.5 1052.1 638.7 1052.1 643.1 1052.1C647.5 1052.1 652 1052.2 656.4 1052.1C660.8 1052.1 665 1052.1 669.4 1051.9C673.8 1051.7 678.3 1051.3 682.7 1050.9C687.1 1050.5 691.4 1050.1 695.7 1049.6C700.1 1049.2 704.6 1048.8 709 1048.4C713.4 1048 717.7 1047.6 722.1 1047.1C726.4 1046.7 730.9 1046 735.3 1045.6C739.7 1045.3 744 1044.9 748.4 1044.9C752.7 1044.8 757.3 1045.1 761.6 1045.4C765.9 1045.7 770 1046.3 774.2 1046.6C778.3 1046.9 782.4 1047.3 786.7 1047.1C791 1047 795.4 1046.3 799.7 1045.6C804 1045 808.2 1044.1 812.5 1043.4C816.8 1042.6 821.2 1041.7 825.5 1041.1C829.9 1040.5 834.2 1039.8 838.6 1039.6C843 1039.4 847.5 1039.7 851.9 1039.9C856.2 1040 860.5 1040.3 864.9 1040.4C869.3 1040.5 873.7 1040.5 878.2 1040.4C882.6 1040.3 887.1 1040.2 891.4 1039.9C895.8 1039.5 900.2 1039 904.5 1038.4C908.7 1037.7 912.8 1037 917 1035.9C921.2 1034.7 925.3 1032.6 929.5 1031.6C933.8 1030.6 938.2 1030.2 942.6 1029.6C946.9 1029 951.5 1028.5 955.8 1027.8C960.2 1027.1 964.5 1026.1 968.9 1025.3C973.3 1024.6 977.8 1024 982.2 1023.3C986.5 1022.7 990.8 1022.2 995.2 1021.6C999.6 1021 1004.2 1020.4 1008.5 1019.8C1012.8 1019.2 1016.7 1018.7 1021 1018.1C1025.2 1017.4 1029.6 1016.7 1034 1016.1C1038.3 1015.4 1042.6 1014.7 1047 1014.1C1051.4 1013.4 1055.9 1012.9 1060.3 1012.3C1064.7 1011.7 1068.9 1011 1073.3 1010.6C1077.7 1010.1 1082.2 1010 1086.6 1009.8C1091 1009.6 1095.2 1009.6 1099.6 1009.5C1104 1009.5 1108.5 1009.5 1112.9 1009.5C1117.3 1009.6 1121.5 1009.8 1125.9 1009.8C1130.3 1009.8 1134.8 1009.8 1139.2 1009.8C1143.6 1009.8 1148 1009.9 1152.2 1009.8C1156.5 1009.7 1160.5 1009.6 1164.8 1009C1169 1008.5 1173.2 1007.4 1177.5 1006.5C1181.8 1005.7 1186.3 1004.7 1190.6 1004C1194.8 1003.4 1198.8 1003.2 1203.1 1002.8C1207.4 1002.4 1212 1001.9 1216.4 1001.5C1220.8 1001.1 1225.1 1000.8 1229.4 1000.3C1233.8 999.7 1238.1 999 1242.4 998.3C1246.8 997.5 1251.3 996.6 1255.7 995.8C1260.1 994.9 1265.9 993.8 1268.8 993.3C1271.6 992.7 1272.1 992.4 1272.8 992.3" stroke="#0068ff" stroke-width="7.8" stroke-dasharray="7.7 5.35" stroke-dashoffset="0"/>
<path d="M1416.5 947.5C1418.5 946.5 1424.6 943.6 1428.6 941.7C1432.5 939.8 1436.4 937.9 1440.3 935.9C1444.3 934 1448.3 931.9 1452.4 929.9C1456.4 928 1460.5 926 1464.7 924.2C1468.8 922.3 1473 920.4 1477.2 918.6C1481.4 916.9 1485.5 915 1489.7 913.6C1493.9 912.2 1498.1 911.2 1502.2 910.4C1506.4 909.5 1510.5 909 1514.8 908.6C1519.1 908.2 1523.7 908.2 1528 907.9C1532.4 907.5 1536.7 906.9 1541.1 906.6C1545.5 906.3 1550 906.1 1554.4 905.9C1558.7 905.6 1563.1 905.1 1567.4 905.4C1571.6 905.6 1576 905.6 1579.9 907.1C1583.8 908.6 1587.2 911.5 1590.7 914.1C1594.2 916.8 1597.4 920.1 1600.7 922.9C1604.1 925.7 1607 928.9 1610.7 930.9C1614.5 932.9 1618.9 934.3 1623.3 934.9C1627.7 935.6 1632.5 934.9 1637 934.9C1641.6 934.9 1647.9 934.9 1650.8 934.9C1653.8 934.9 1654 934.9 1654.6 934.9" stroke="#0068ff" stroke-width="7.8" stroke-dasharray="7.7 5.35" stroke-dashoffset="0"/>
<path d="M252.8 1141.4C255.5 1141.1 264 1140.3 268.8 1139.8C273.7 1139.4 277.5 1139.1 281.8 1138.8C286.2 1138.6 290.7 1138.3 295.1 1138.1C299.5 1137.8 303.8 1137.6 308.2 1137.3C312.5 1137 317.1 1136.7 321.4 1136.3C325.8 1136 331.6 1135.3 334.5 1135.1C337.3 1134.8 337.8 1134.9 338.5 1134.8" stroke="#00ffbb" stroke-width="7.8" stroke-dasharray="7.7 5.35" stroke-dashoffset="0"/>
<path d="M483.1 1135.1C484.7 1135.1 489.2 1135.1 493.1 1135.1C497 1135 502 1135 506.4 1134.8C510.7 1134.7 515 1134.5 519.4 1134.3C523.8 1134.2 528.3 1134.2 532.7 1134.1C537.1 1134 541.3 1133.9 545.7 1133.8C550.1 1133.8 554.6 1133.7 559 1133.6C563.4 1133.5 567.6 1133.3 572 1133.1C576.4 1132.9 581.5 1132.5 585.3 1132.3C589.1 1132.2 590.6 1132.5 595 1132.3C599.4 1132.1 606.8 1131.4 611.8 1131.1C616.8 1130.8 620.7 1130.8 625.1 1130.6C629.5 1130.4 633.7 1130.1 638.1 1129.8C642.5 1129.6 647 1129.3 651.4 1129.1C655.8 1128.9 660 1128.7 664.4 1128.6C668.8 1128.4 673.3 1128.2 677.7 1128.1C682.1 1127.9 686.3 1127.8 690.7 1127.6C695.1 1127.4 699.6 1127.1 704 1126.8C708.4 1126.6 712.7 1126.6 717 1126.1C721.3 1125.6 725.5 1124.5 729.8 1123.8C734.1 1123.1 738.5 1122.5 742.9 1122.1C747.2 1121.6 751.5 1121.4 755.9 1121.1C760.3 1120.7 764.8 1120.3 769.2 1120.1C773.5 1119.8 777.8 1119.7 782.2 1119.6C786.6 1119.4 791.1 1119.2 795.5 1119C799.9 1118.9 804.1 1118.9 808.5 1118.8C812.9 1118.7 817.4 1118.5 821.8 1118.3C826.2 1118.1 830.4 1117.8 834.8 1117.5C839.2 1117.3 843.7 1117.1 848.1 1116.8C852.5 1116.5 856.7 1116.1 861.1 1115.8C865.5 1115.5 870 1115.1 874.4 1114.8C878.8 1114.5 883 1114.2 887.4 1114C891.8 1113.8 896.3 1113.7 900.7 1113.5C905.1 1113.4 909.4 1113.6 913.7 1113C918 1112.5 922.3 1111.1 926.5 1110C930.7 1109 934.9 1108.1 939.1 1106.8C943.2 1105.4 947.5 1103.5 951.6 1101.8C955.6 1100 959.3 1097.7 963.4 1096.2C967.4 1094.8 971.6 1093.9 975.9 1093C980.1 1092.1 984.5 1091.6 988.9 1091C993.3 1090.4 997.8 1089.8 1002.2 1089.2C1006.6 1088.6 1011.4 1087.9 1015.2 1087.5C1019 1087.1 1021 1086 1025 1086.7C1029 1087.4 1034.9 1089.6 1039 1091.7C1043.1 1093.8 1045.7 1097.2 1049.5 1099.3C1053.3 1101.3 1057.7 1103.1 1062 1104.3C1066.3 1105.4 1070.9 1105.9 1075.3 1106.3C1079.7 1106.6 1084.3 1106.8 1088.6 1106.3C1092.9 1105.7 1097.1 1104.4 1101.1 1103C1105.2 1101.6 1108.9 1099.7 1112.9 1098C1116.9 1096.3 1121 1094.9 1124.9 1093C1128.9 1091.1 1132.9 1088.9 1136.7 1086.7C1140.5 1084.5 1144.1 1081.7 1148 1079.7C1151.9 1077.7 1155.8 1075.8 1160 1074.7C1164.2 1073.6 1168.7 1073.4 1173 1072.9C1177.4 1072.5 1181.7 1072.5 1186.1 1072.2C1190.5 1071.9 1195 1071.4 1199.3 1070.9C1203.7 1070.5 1208 1070.1 1212.4 1069.7C1216.8 1069.3 1221.3 1068.9 1225.7 1068.4C1230 1067.9 1234.3 1067.3 1238.7 1066.7C1243.1 1066.1 1247.6 1065.4 1252 1064.9C1256.4 1064.4 1262.2 1064 1265 1063.7C1267.8 1063.4 1268.1 1063.3 1268.8 1063.2" stroke="#00ffbb" stroke-width="7.8" stroke-dasharray="7.7 5.35" stroke-dashoffset="0"/>
<path d="M1412.8 1049.4C1415.4 1049.4 1423.8 1049.1 1428.6 1048.9C1433.4 1048.7 1437.3 1048.4 1441.6 1048.2C1445.9 1048 1450.2 1047.9 1454.6 1047.7C1459 1047.5 1463.5 1047.3 1467.9 1046.9C1472.3 1046.6 1476.6 1046.1 1480.9 1045.7C1485.3 1045.3 1489.8 1044.8 1494.2 1044.4C1498.6 1044.1 1502.9 1044 1507.2 1043.7C1511.6 1043.4 1516.1 1043 1520.5 1042.7C1524.9 1042.4 1529.2 1042.2 1533.6 1041.9C1537.9 1041.7 1542.5 1041.5 1546.8 1041.2C1551.2 1040.8 1555.5 1040.5 1559.9 1039.9C1564.3 1039.3 1568.8 1038.4 1573.2 1037.7C1577.5 1037 1581.4 1036.4 1585.7 1035.7C1589.9 1034.9 1594.4 1034 1598.7 1033.2C1603 1032.3 1607.2 1031.6 1611.5 1030.6C1615.8 1029.7 1620.2 1028.6 1624.5 1027.6C1628.9 1026.7 1633.2 1025.8 1637.5 1024.9C1641.9 1024 1648 1023 1650.8 1022.4C1653.7 1021.8 1654 1021.5 1654.6 1021.4" stroke="#00ffbb" stroke-width="7.8" stroke-dasharray="7.7 5.35" stroke-dashoffset="0"/>
<path d="M258.2 1165.7C261 1165.7 270.1 1165.7 275.1 1165.7C280.1 1165.6 283.7 1165.5 288.1 1165.4C292.5 1165.3 297 1165.2 301.4 1165.2C305.8 1165.1 310 1165 314.4 1164.9C318.8 1164.8 324.7 1164.7 327.7 1164.7C330.7 1164.6 331.5 1164.7 332.2 1164.7" stroke="#ffff00" stroke-width="7.8" stroke-dasharray="7.7 5.35" stroke-dashoffset="0"/>
<path d="M475.5 1160.6C477.2 1160.6 481.6 1160.3 485.6 1160.1C489.5 1160 494.9 1159.8 499.3 1159.6C503.8 1159.5 508 1159.3 512.4 1159.1C516.8 1159 521.3 1158.8 525.7 1158.6C530 1158.5 534.3 1158.3 538.7 1158.1C543.1 1158 547.6 1157.8 552 1157.6C556.4 1157.5 560.6 1157.3 565 1157.1C569.4 1157 574.1 1156.7 578.3 1156.6C582.4 1156.6 585.7 1157 590 1156.9C594.3 1156.8 599.3 1156.3 603.8 1156.1C608.3 1155.9 612.4 1155.8 616.8 1155.6C621.2 1155.4 625.7 1155.1 630.1 1154.9C634.5 1154.7 638.7 1154.6 643.1 1154.4C647.5 1154.2 652 1153.8 656.4 1153.6C660.8 1153.4 665 1153.3 669.4 1153.1C673.8 1153 678.3 1152.8 682.7 1152.6C687.1 1152.5 691.4 1152.3 695.7 1152.1C700.1 1152 704.6 1151.8 709 1151.6C713.4 1151.5 717.7 1151.3 722.1 1151.1C726.4 1151 730.9 1150.8 735.3 1150.6C739.7 1150.5 744 1150.3 748.4 1150.1C752.7 1150 757.3 1149.8 761.6 1149.6C766 1149.5 770.3 1149.3 774.7 1149.1C779.1 1148.9 783.6 1148.6 788 1148.4C792.3 1148.1 796.6 1147.9 801 1147.6C805.4 1147.4 809.9 1147.1 814.3 1146.9C818.7 1146.6 822.9 1146.4 827.3 1146.1C831.7 1145.9 836.2 1145.6 840.6 1145.4C845 1145.1 849.2 1144.8 853.6 1144.6C858 1144.4 862.5 1144.3 866.9 1144.1C871.3 1143.9 875.5 1143.8 879.9 1143.6C884.3 1143.4 888.8 1143.3 893.2 1143.1C897.6 1142.9 901.8 1142.6 906.2 1142.4C910.6 1142.1 915.1 1141.8 919.5 1141.6C923.9 1141.4 928.2 1141.3 932.5 1141.1C936.9 1140.9 941.4 1140.8 945.8 1140.6C950.2 1140.4 954.5 1140.1 958.8 1139.8C963.2 1139.6 967.7 1139.1 972.1 1138.8C976.5 1138.6 980.8 1138.3 985.2 1138.1C989.5 1137.8 994.1 1137.6 998.4 1137.3C1002.8 1137.1 1007 1137 1011.5 1136.8C1015.9 1136.6 1020.7 1136.2 1025 1136.1C1029.3 1136 1032.8 1136.2 1037 1136.1C1041.2 1136 1045.9 1135.8 1050.3 1135.6C1054.6 1135.4 1058.9 1135.1 1063.3 1134.8C1067.7 1134.6 1072.2 1134.3 1076.6 1134.1C1080.9 1133.8 1085.2 1133.6 1089.6 1133.3C1094 1133.1 1098.5 1132.9 1102.9 1132.6C1107.3 1132.3 1111.5 1131.9 1115.9 1131.6C1120.3 1131.2 1124.8 1130.9 1129.2 1130.6C1133.6 1130.2 1137.8 1129.9 1142.2 1129.6C1146.6 1129.2 1151.1 1128.7 1155.5 1128.3C1159.9 1127.9 1164.1 1127.7 1168.5 1127.1C1172.9 1126.5 1177.5 1125.6 1181.8 1124.8C1186.1 1124 1190.2 1123.1 1194.3 1122.3C1198.5 1121.5 1202.6 1120.7 1206.9 1120.1C1211.1 1119.4 1215.5 1119 1219.9 1118.5C1224.3 1118 1228.8 1117.5 1233.2 1117C1237.6 1116.6 1241.8 1116.4 1246.2 1116C1250.6 1115.7 1255.1 1115.2 1259.5 1114.8C1263.9 1114.4 1269.7 1113.8 1272.5 1113.5C1275.4 1113.2 1275.9 1113.1 1276.5 1113" stroke="#ffff00" stroke-width="7.8" stroke-dasharray="7.7 5.35" stroke-dashoffset="0"/>
<path d="M1420.3 1093.8C1423.2 1093.4 1432.8 1092 1437.8 1091.5C1442.9 1091 1446.2 1091 1450.4 1090.8C1454.5 1090.6 1458.7 1090.3 1462.9 1090.3C1467.1 1090.3 1471 1090.7 1475.4 1090.8C1479.8 1090.9 1484.8 1091.4 1489.2 1090.8C1493.6 1090.2 1497.8 1088.5 1501.7 1087C1505.7 1085.6 1509 1083.3 1513 1082C1517 1080.8 1521.2 1080 1525.5 1079.5C1529.8 1079 1534.4 1079.1 1538.8 1079C1543.3 1078.9 1547.9 1079.1 1552.4 1079C1556.8 1078.9 1561.3 1078.6 1565.6 1078.3C1569.9 1077.9 1573.8 1077.5 1578.2 1077C1582.5 1076.5 1587.6 1075.8 1591.9 1075C1596.3 1074.2 1600.1 1072.9 1604.5 1072C1608.9 1071.1 1615.3 1070 1618.3 1069.5C1621.2 1068.9 1621.4 1068.9 1622 1068.7" stroke="#ffff00" stroke-width="7.8" stroke-dasharray="7.7 5.35" stroke-dashoffset="0"/>
<path d="M1041 1153.6C1043.7 1153.5 1052.1 1153.3 1057 1153.1C1061.9 1152.9 1065.9 1152.6 1070.3 1152.4C1074.7 1152.2 1078.9 1152.1 1083.3 1151.9C1087.7 1151.7 1092.2 1151.3 1096.6 1151.1C1101 1150.9 1105.3 1150.8 1109.6 1150.6C1114 1150.5 1118.5 1150.3 1122.9 1150.1C1127.3 1149.9 1133.2 1149.5 1136 1149.4C1138.7 1149.2 1139.1 1149.2 1139.7 1149.1" stroke="#ff3c00" stroke-width="7.8" stroke-dasharray="7.7 5.35" stroke-dashoffset="0"/>
<path d="M1287.8 1140.1C1290.3 1140 1297.8 1139.8 1302.5 1139.7C1307.3 1139.5 1311.7 1139.5 1316.3 1139.4C1320.9 1139.3 1325.6 1139.2 1330.1 1139.2C1334.6 1139.1 1338.7 1139 1343.1 1138.9C1347.5 1138.8 1352 1138.7 1356.4 1138.7C1360.8 1138.6 1365 1138.5 1369.4 1138.4C1373.8 1138.3 1378.3 1138.2 1382.7 1137.9C1387.1 1137.7 1391.4 1137.4 1395.7 1136.9C1400 1136.4 1404.2 1135.7 1408.5 1134.9C1412.8 1134.2 1417.2 1133.2 1421.6 1132.4C1425.9 1131.6 1430.2 1130.7 1434.6 1129.9C1439 1129.1 1443.5 1128.1 1447.9 1127.4C1452.2 1126.7 1456.5 1126.3 1460.9 1125.9C1465.3 1125.5 1469.8 1125.2 1474.2 1124.9C1478.6 1124.6 1482.8 1124.5 1487.2 1124.1C1491.6 1123.7 1496.2 1123.2 1500.5 1122.4C1504.8 1121.5 1508.8 1120.2 1513 1119.1C1517.2 1118 1521.2 1116.9 1525.5 1115.9C1529.8 1114.8 1534.4 1113.6 1538.8 1112.9C1543.2 1112.1 1547.5 1111.5 1551.9 1111.1C1556.2 1110.7 1560.5 1110.7 1564.9 1110.3C1569.3 1110 1573.7 1109.6 1578.2 1109.1C1582.6 1108.5 1588.6 1107.5 1591.4 1107.1C1594.3 1106.7 1594.6 1106.7 1595.2 1106.6" stroke="#ff3c00" stroke-width="7.8" stroke-dasharray="7.7 5.35" stroke-dashoffset="0"/>
<rect x="1475" y="1141.7" width="2" height="7.4" fill="#8f0000"/><rect x="1482.9" y="1141.5" width="7.1" height="7.8" fill="#8f0000"/><rect x="1499" y="1141" width="7.9" height="8" fill="#8f0000"/>
</g>
<polyline points="256.9,536.5 340,423 422.1,347.5 504.2,282.5 586.4,232.8 668.5,192.5 750.6,170 832.8,169.6 914.9,169.6 997,169.6 1079.1,176 1161.2,191 1243.4,222.7 1325.5,258 1407.6,294.5 1489.8,354.8 1571.9,392.6 1654,602.5" fill="none" stroke="#ff0000" stroke-width="14.3" stroke-linejoin="miter"/>
<g font-family="'Liberation Serif', serif" font-weight="bold" font-size="72.5" fill="#232323">
<text transform="translate(339.0,1267.7) scale(1,1.03)" text-anchor="middle">800</text>
<text transform="translate(667.3,1267.7) scale(1,1.03)" text-anchor="middle">1200</text>
<text transform="translate(995.7,1267.7) scale(1,1.03)" text-anchor="middle">1600</text>
<text transform="translate(1324.2,1267.7) scale(1,1.03)" text-anchor="middle">2000</text>
<text transform="translate(1653.0,1267.7) scale(1,1.03)" text-anchor="middle">2400</text>
<text transform="translate(229.8,134.8) scale(1,1.03)" text-anchor="end">900</text>
<text transform="translate(229.8,386.6) scale(1,1.03)" text-anchor="end">700</text>
<text transform="translate(229.8,638.3) scale(1,1.03)" text-anchor="end">500</text>
<text transform="translate(229.8,890) scale(1,1.03)" text-anchor="end">300</text>
<text transform="translate(229.8,1141.8) scale(1,1.03)" text-anchor="end">100</text>
</g>
<g font-family="'Liberation Serif', serif" font-weight="bold" fill="#232323">
<text x="955.7" y="1362.8" font-size="79.5" text-anchor="middle">Speed /(rpm)</text>
<text transform="translate(84.9,642.1) rotate(-90)" font-size="79.3" text-anchor="middle" style="font-kerning:normal">Torque/(Nm)</text>
</g>
<rect x="940" y="21.4" width="697.8" height="181.7" fill="#ffffff" stroke="#232323" stroke-width="3.8"/>
<polygon points="1177.1,72.5 1171.1,82.3 1154,90.9 1127.7,97.3 1095.5,100.7 1061.3,100.7 1029.1,97.3 1002.8,90.9 985.7,82.3 979.8,72.5 985.7,62.7 1002.8,54.1 1029.1,47.7 1061.3,44.3 1095.5,44.3 1127.7,47.7 1154,54.1 1171.1,62.7" fill="none" stroke="#00008f" stroke-width="3.6" stroke-linejoin="round"/>
<polygon points="1143.9,72.9 1139.9,79.5 1128.6,85.3 1111.2,89.6 1089.8,91.9 1067,91.9 1045.7,89.6 1028.2,85.3 1016.9,79.5 1012.9,72.9 1016.9,66.3 1028.2,60.5 1045.7,56.2 1067,53.9 1089.8,53.9 1111.2,56.2 1128.6,60.5 1139.9,66.3" fill="none" stroke="#00ff80" stroke-width="3.6" stroke-linejoin="round"/>
<polygon points="1111.1,72.5 1109.1,75.8 1103.4,78.8 1094.8,80.9 1084.1,82.1 1072.7,82.1 1062.1,80.9 1053.4,78.8 1047.7,75.8 1045.7,72.5 1047.7,69.2 1053.4,66.2 1062.1,64.1 1072.7,62.9 1084.1,62.9 1094.8,64.1 1103.4,66.2 1109.1,69.2" fill="none" stroke="#8f0000" stroke-width="3.6" stroke-linejoin="round"/>
<line x1="979" y1="151.9" x2="1184" y2="151.9" stroke="#ff0000" stroke-width="14"/>
<g font-family="'Liberation Serif', serif" font-weight="bold" font-size="65.3" fill="#000000">
<text x="1196" y="97.5">BSFC [g/kWh]</text>
<text x="1196" y="178.3">Torque limit</text>
</g>
</svg>
</body>
</html>
